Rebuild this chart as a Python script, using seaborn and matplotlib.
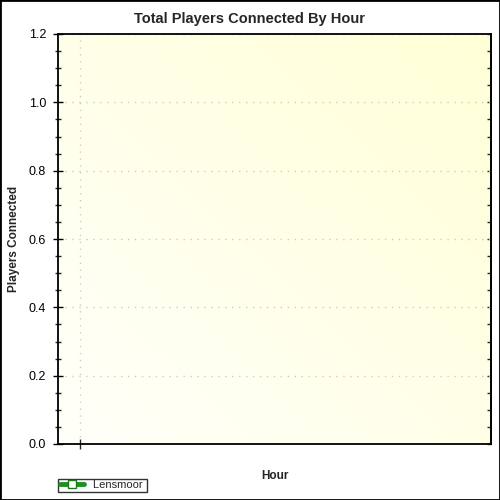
import numpy as np
import pandas as pd
import seaborn as sns
import matplotlib.pyplot as plt
from matplotlib.lines import Line2D
from matplotlib.patches import Rectangle
from matplotlib.ticker import MultipleLocator, FixedLocator

# data (no samples recorded yet)
hours = []
players = []
server = 'Lensmoor'
x_ticks = [0]

sns.set_style('white')
plt.rcParams['font.family'] = ['Liberation Sans', 'DejaVu Sans']

fig = plt.figure(figsize=(5, 5), dpi=100)
ax = fig.add_axes([0.116, 0.112, 0.866, 0.82])

df = pd.DataFrame({'Hour': pd.Series(hours, dtype=float),
                   'Players': pd.Series(players, dtype=float)})
sns.lineplot(data=df, x='Hour', y='Players', color='#1a8a1a', ax=ax)

# background gradient, yellow top-right fading to white bottom-left
gx, gy = np.meshgrid(np.linspace(0, 1, 200), np.linspace(0, 1, 200))
t = (gx + gy) / 2
c0 = np.array([255, 255, 250]) / 255
c1 = np.array([255, 255, 215]) / 255
img = c0 + (c1 - c0) * t[..., None]
ax.imshow(img, extent=[0, 1, 0, 1], transform=ax.transAxes, origin='lower',
          aspect='auto', zorder=0)

ax.set_xlim(-1, 18.6)
ax.set_ylim(0, 1.2)
ax.xaxis.set_major_locator(FixedLocator(x_ticks))
ax.set_xticklabels([])
ax.yaxis.set_major_locator(MultipleLocator(0.2))
ax.yaxis.set_minor_locator(MultipleLocator(0.05))
ax.yaxis.set_major_formatter(plt.FuncFormatter(lambda v, p: f'{v:.1f}'))

ax.grid(True, which='major', color='#cccccc', linestyle=(0, (1, 4)), linewidth=1)
ax.set_axisbelow(True)

for s in ax.spines.values():
    s.set_color('black')
    s.set_linewidth(1.3)

ax.tick_params(axis='y', which='major', left=True, right=False, direction='inout',
               length=7, width=1, labelsize=9, colors='black', pad=5)
ax.tick_params(axis='y', which='minor', left=True, right=False, direction='inout',
               length=4, width=1)
ax.tick_params(axis='x', which='major', bottom=True, direction='inout', length=7, width=1)

# right side: short inward ticks, no labels
sec = ax.secondary_yaxis('right')
sec.yaxis.set_major_locator(MultipleLocator(0.05))
sec.tick_params(axis='y', direction='in', length=3, width=1, labelright=False)
sec.spines['right'].set_linewidth(1.3)

fig.suptitle('Total Players Connected By Hour', x=0.5, y=0.976, fontsize=10.5,
             fontweight='bold')
ax.set_ylabel('Players Connected', fontsize=8.5, fontweight='bold', labelpad=6)
ax.set_xlabel('Hour', fontsize=8.5, fontweight='bold', labelpad=12)

handle = Line2D([], [], color='#1f8f1f', linewidth=3.5, marker='s', markersize=6,
                markerfacecolor='white', markeredgecolor='#1f7a1f', markeredgewidth=1)
leg = fig.legend([handle], [server], loc='lower left', bbox_to_anchor=(0.116, 0.016),
                 fontsize=8, frameon=True, fancybox=False, handlelength=2.2,
                 borderpad=0.15, handletextpad=0.8, borderaxespad=0)
leg.get_frame().set_edgecolor('black')
leg.get_frame().set_linewidth(1)
leg.get_texts()[0].set_text(server + ' ')

fig.patches.append(Rectangle((0, 0), 1, 1, transform=fig.transFigure, fill=False,
                             edgecolor='black', linewidth=2, zorder=10))

fig.savefig('out.png', dpi=100)
